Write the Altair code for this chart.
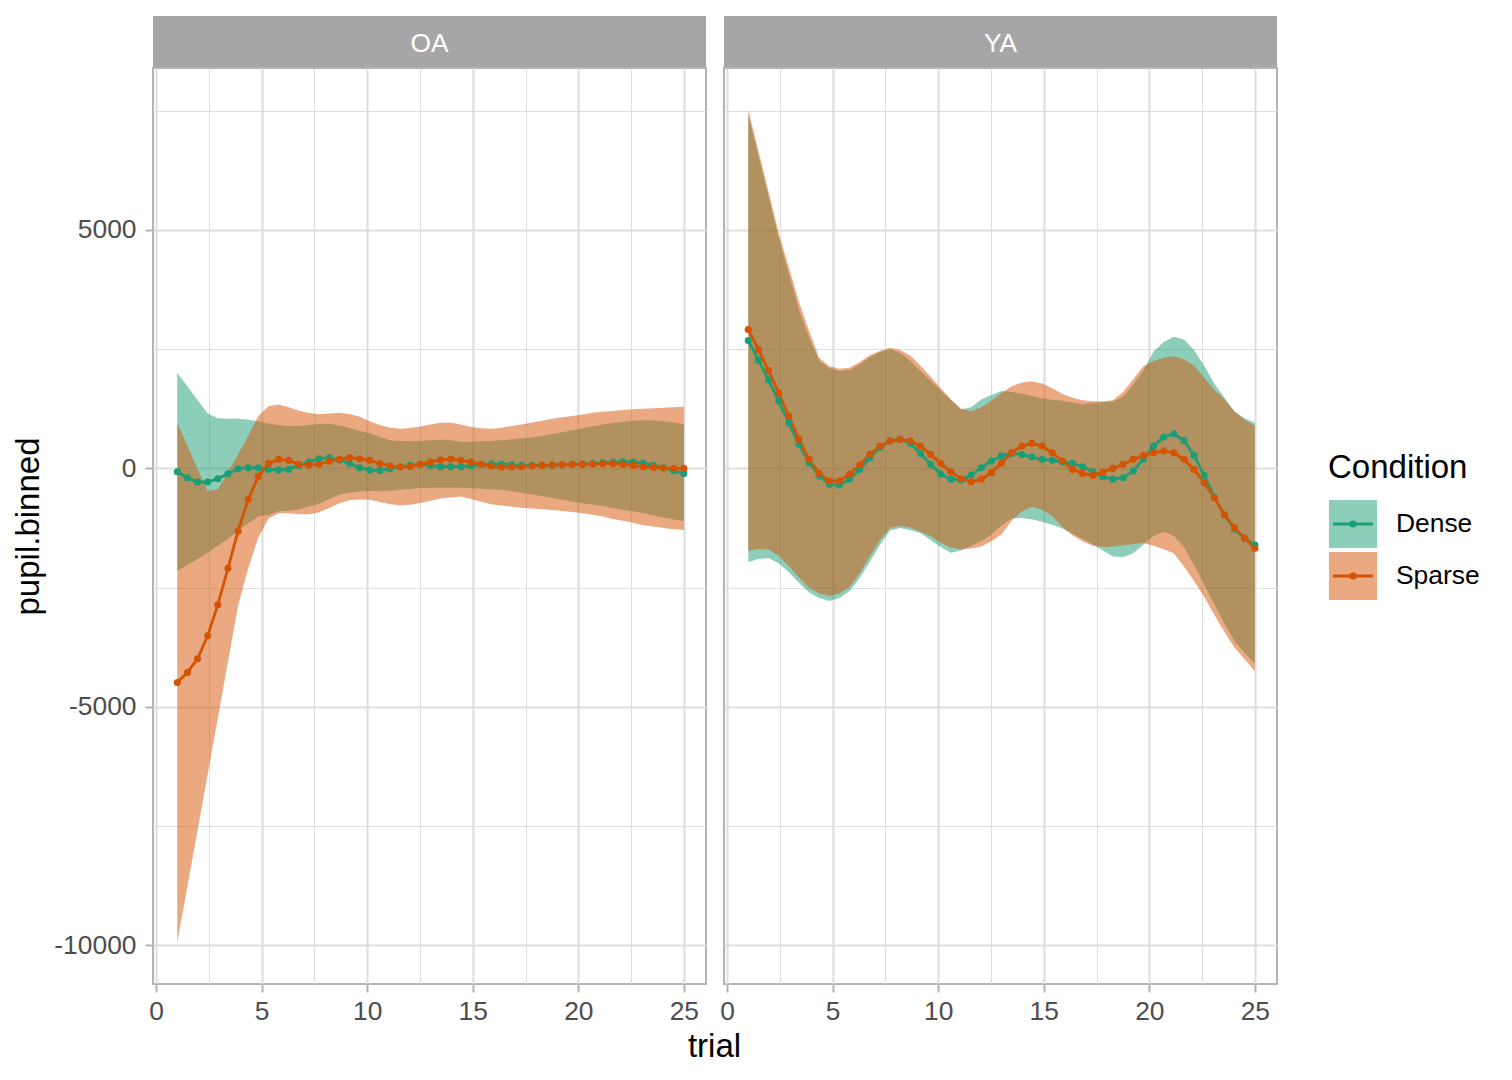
import altair as alt
import pandas as pd

FONT = "Liberation Sans"
CONDITIONS = ["Dense", "Sparse"]
COLORS = ["#1B9E77", "#D65304"]
STRIP_FILL = "#A6A6A6"

# binned trial positions (51 bins between trial 1 and 25)
TRIAL = [1.0, 1.48, 1.96, 2.44, 2.92, 3.4, 3.88, 4.36, 4.84, 5.32,
         5.8, 6.28, 6.76, 7.24, 7.72, 8.2, 8.68, 9.16, 9.64, 10.12,
         10.6, 11.08, 11.56, 12.04, 12.52, 13.0, 13.48, 13.96, 14.44, 14.92,
         15.4, 15.88, 16.36, 16.84, 17.32, 17.8, 18.28, 18.76, 19.24, 19.72,
         20.2, 20.68, 21.16, 21.64, 22.12, 22.6, 23.08, 23.56, 24.04, 24.52, 25.0]

# ---- OA ----
OA_DENSE = [-70, -195, -286, -286, -216, -112, -7, 14, 14, -21,
            -35, -21, 63, 133, 203, 224, 175, 105, 14, -35,
            -42, -7, 35, 63, 84, 63, 35, 35, 35, 55,
            80, 95, 90, 75, 65, 60, 63, 70, 77, 84,
            90, 100, 115, 133, 140, 133, 105, 63, 14, -56, -105]
OA_DENSE_LO = [-2151, -2025, -1900, -1767, -1620, -1480, -1300, -1150, -1010, -975,
               -900, -890, -860, -800, -740, -640, -550, -510, -485, -475,
               -480, -470, -450, -430, -410, -405, -405, -405, -405, -415,
               -425, -440, -455, -480, -510, -545, -580, -620, -660, -700,
               -730, -755, -790, -830, -870, -900, -940, -990, -1030, -1070, -1104]
OA_DENSE_HI = [2005, 1724, 1431, 1152, 1050, 1040, 1045, 1020, 990, 940,
               910, 890, 890, 910, 930, 935, 900, 850, 790, 730,
               660, 590, 572, 570, 575, 590, 605, 590, 560, 560,
               570, 572, 590, 610, 630, 650, 680, 720, 755, 800,
               840, 880, 920, 950, 980, 1000, 1010, 1005, 990, 960, 922]
OA_SPARSE = [-4490, -4280, -3990, -3510, -2860, -2095, -1313, -652, -165, 100,
             189, 168, 87, 70, 87, 150, 189, 224, 203, 168,
             103, 49, 30, 38, 84, 135, 178, 196, 170, 133,
             84, 49, 28, 28, 35, 49, 63, 70, 77, 84,
             84, 91, 98, 98, 84, 63, 35, 21, 7, 0, 0]
OA_SPARSE_LO = [-9940, -8760, -7590, -6410, -5240, -4060, -2880, -2100, -1450, -1050,
                -940, -940, -960, -960, -920, -830, -730, -670, -650, -660,
                -705, -750, -775, -760, -725, -680, -630, -610, -590, -640,
                -700, -750, -780, -805, -825, -840, -855, -875, -895, -915,
                -940, -970, -1010, -1060, -1100, -1140, -1190, -1220, -1250, -1275, -1290]
OA_SPARSE_HI = [957, 482, -14, -475, -440, -77, 293, 677, 1100, 1300,
                1340, 1280, 1210, 1160, 1135, 1150, 1165, 1140, 1080, 990,
                910, 852, 831, 845, 880, 920, 955, 957, 920, 870,
                840, 831, 850, 890, 920, 960, 1000, 1040, 1070, 1100,
                1130, 1165, 1185, 1205, 1225, 1240, 1250, 1260, 1270, 1280, 1292]

# ---- YA ----
YA_DENSE = [2682, 2269, 1857, 1411, 950, 510, 119, -161, -335, -349,
            -230, -21, 216, 440, 580, 608, 524, 314, 84, -119,
            -230, -244, -140, 14, 154, 262, 314, 293, 237, 189,
            168, 140, 105, 35, -70, -174, -230, -195, -56, 189,
            468, 656, 726, 587, 272, -147, -601, -978, -1278, -1467, -1606]
YA_DENSE_LO = [-1962, -1900, -1880, -1990, -2180, -2400, -2600, -2720, -2780, -2720,
               -2570, -2300, -1960, -1600, -1300, -1250, -1290, -1360, -1500, -1650,
               -1767, -1720, -1620, -1530, -1380, -1200, -1050, -1040, -1068, -1120,
               -1180, -1260, -1370, -1480, -1590, -1720, -1850, -1860, -1780, -1600,
               -1420, -1330, -1420, -1650, -2030, -2430, -2850, -3250, -3620, -3870, -4090]
YA_DENSE_HI = [7400, 6560, 5700, 4833, 4080, 3330, 2750, 2250, 2100, 2040,
               2060, 2180, 2330, 2440, 2500, 2420, 2250, 2040, 1830, 1630,
               1430, 1240, 1280, 1446, 1540, 1620, 1600, 1570, 1520, 1470,
               1440, 1420, 1380, 1341, 1370, 1390, 1400, 1500, 1760, 2050,
               2450, 2650, 2759, 2700, 2480, 2150, 1780, 1480, 1180, 1050, 957]
YA_SPARSE = [2912, 2493, 2053, 1585, 1096, 608, 189, -105, -265, -265,
             -126, 70, 293, 468, 573, 608, 573, 468, 293, 105,
             -77, -216, -279, -230, -91, 110, 330, 468, 524, 468,
             328, 154, -21, -105, -147, -77, 0, 84, 189, 272,
             328, 363, 328, 189, -21, -300, -615, -978, -1243, -1467, -1676]
YA_SPARSE_LO = [-1732, -1690, -1700, -1830, -2050, -2290, -2500, -2620, -2675, -2620,
                -2480, -2200, -1840, -1500, -1243, -1210, -1240, -1330, -1420, -1560,
                -1662, -1697, -1680, -1640, -1530, -1380, -1100, -900, -810, -860,
                -1000, -1230, -1400, -1530, -1620, -1650, -1640, -1610, -1592, -1557,
                -1620, -1697, -1780, -2050, -2360, -2690, -3070, -3430, -3760, -4000, -4250]
YA_SPARSE_HI = [7520, 6660, 5800, 4940, 4217, 3492, 2885, 2319, 2143, 2088,
                2110, 2230, 2370, 2460, 2528, 2480, 2360, 2150, 1920, 1680,
                1450, 1250, 1200, 1280, 1420, 1580, 1720, 1800, 1829, 1780,
                1680, 1560, 1480, 1430, 1410, 1400, 1430, 1600, 1870, 2143,
                2250, 2320, 2350, 2290, 2150, 1900, 1650, 1450, 1200, 1020, 886]

X_DOMAIN = [-0.15, 26.05]
Y_DOMAIN = [-10810, 8394]
X_GRID = [0, 2.5, 5, 7.5, 10, 12.5, 15, 17.5, 20, 22.5, 25]
Y_GRID = [-10000, -7500, -5000, -2500, 0, 2500, 5000, 7500]

PANEL_W, PANEL_H, STRIP_H = 553, 916, 51


def build_frame():
    series = [
        ("OA", "Dense", OA_DENSE, OA_DENSE_LO, OA_DENSE_HI),
        ("OA", "Sparse", OA_SPARSE, OA_SPARSE_LO, OA_SPARSE_HI),
        ("YA", "Dense", YA_DENSE, YA_DENSE_LO, YA_DENSE_HI),
        ("YA", "Sparse", YA_SPARSE, YA_SPARSE_LO, YA_SPARSE_HI),
    ]
    rows = []
    for panel, cond, mid, lo, hi in series:
        for t, m, l, h in zip(TRIAL, mid, lo, hi):
            rows.append({"panel": panel, "Condition": cond, "trial": t,
                         "pupil": m, "lower": l, "upper": h})
    return pd.DataFrame(rows)


df = build_frame()
color = alt.Color("Condition:N",
                  scale=alt.Scale(domain=CONDITIONS, range=COLORS),
                  legend=None)


def grid_axis(values, step, show_labels, **extra):
    minor = f"datum.value % {step} !== 0"
    return alt.Axis(
        values=values,
        labels=show_labels,
        labelExpr=f"datum.value % {step} === 0 ? toString(datum.value) : ''",
        labelFont=FONT, labelFontSize=26.4, labelColor="#4D4D4D",
        labelFlush=False, labelOverlap=False,
        ticks=show_labels, tickSize=8, tickColor="#B3B3B3", tickWidth=2,
        tickOpacity={"condition": {"test": minor, "value": 0}, "value": 1},
        grid=True, gridColor="#DEDEDE",
        gridWidth={"condition": {"test": minor, "value": 1.1}, "value": 2.1},
        domain=False,
        **extra,
    )


def strip_layers(name):
    # grey facet strip sitting just above the plotting area
    src = alt.Chart(pd.DataFrame({"panel": [name]}))
    box = src.mark_rect(color=STRIP_FILL).encode(
        x=alt.value(0), x2=alt.value(PANEL_W),
        y=alt.value(-STRIP_H - 1), y2=alt.value(-1))
    label = src.mark_text(color="white", font=FONT, fontSize=26.4, baseline="middle").encode(
        text="panel:N", x=alt.value(PANEL_W / 2), y=alt.value(-STRIP_H / 2 + 1.5))
    return [box, label]


def panel(name, first):
    base = alt.Chart(df).transform_filter(alt.datum.panel == name)
    if first:
        x_axis = grid_axis(X_GRID, 5, True, labelPadding=6,
                           title="trial", titleX=561, titleY=72,
                           titleAlign="center", titleBaseline="alphabetic",
                           titleFont=FONT, titleFontSize=33,
                           titleFontWeight="normal", titleColor="black")
        y_axis = grid_axis(Y_GRID, 5000, True, labelPadding=9,
                           title="pupil.binned",
                           titleFont=FONT, titleFontSize=33, titlePadding=8,
                           titleFontWeight="normal", titleColor="black")
    else:
        x_axis = grid_axis(X_GRID, 5, True, labelPadding=6, title=None)
        y_axis = grid_axis(Y_GRID, 5000, False, title=None)

    x = alt.X("trial:Q", scale=alt.Scale(domain=X_DOMAIN, nice=False, zero=False), axis=x_axis)
    y = alt.Y("lower:Q", scale=alt.Scale(domain=Y_DOMAIN, nice=False, zero=False), axis=y_axis)

    ribbon = base.mark_area(opacity=0.5).encode(x=x, y=y, y2="upper:Q", color=color)
    line = base.mark_line(strokeWidth=2.8).encode(x="trial:Q", y="pupil:Q", color=color)
    dots = base.mark_circle(size=50, opacity=1).encode(x="trial:Q", y="pupil:Q", color=color)
    return alt.layer(ribbon, line, dots, *strip_layers(name)).properties(
        width=PANEL_W, height=PANEL_H)


def legend():
    keys = alt.Chart(pd.DataFrame({"Condition": CONDITIONS}))
    ly = alt.Y("Condition:N",
               scale=alt.Scale(type="point", domain=CONDITIONS, range=[456, 508], padding=0),
               axis=None)
    swatch = keys.mark_square(size=48 * 48, opacity=0.5).encode(
        x=alt.value(58), y=ly, color=color)
    stroke = keys.mark_rule(strokeWidth=2.8).encode(
        x=alt.value(38), x2=alt.value(78), y=ly, color=color)
    dot = keys.mark_circle(size=50, opacity=1).encode(x=alt.value(58), y=ly, color=color)
    label = keys.mark_text(align="left", baseline="middle", font=FONT,
                           fontSize=26.4, color="black").encode(
        x=alt.value(101), y=ly, text="Condition:N")
    heading = alt.Chart(pd.DataFrame({"heading": ["Condition"]})).mark_text(
        align="left", baseline="middle", font=FONT, fontSize=33, color="black").encode(
        x=alt.value(33), y=alt.value(400), text="heading:N")
    return alt.layer(swatch, stroke, dot, label, heading).properties(
        width=200, height=PANEL_H, view=alt.ViewBackground(stroke=None))


chart = alt.hconcat(
    panel("OA", True),
    panel("YA", False),
    legend(),
    spacing=18,
    bounds="flush",
).properties(
    padding={"left": 11, "top": 15, "right": 0, "bottom": 0},
    background="white",
).configure(font=FONT).configure_view(stroke="#B3B3B3", strokeWidth=2)

chart.save("out.html", embed_options={"renderer": "svg", "actions": False})
